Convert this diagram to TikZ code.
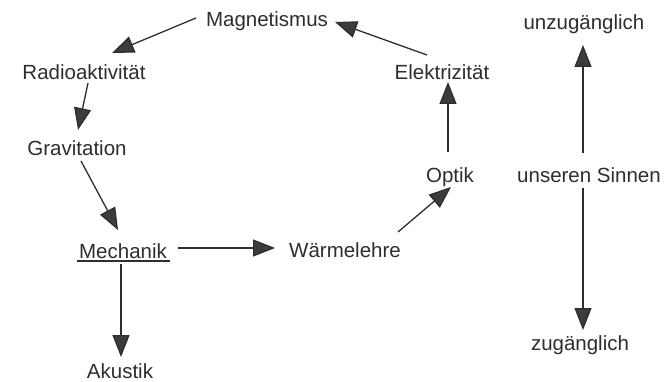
\documentclass[tikz,border=0pt]{standalone}
\usepackage{fontspec}
\setmainfont{Liberation Sans}
\usetikzlibrary{arrows.meta,calc}
\definecolor{ink}{HTML}{2E2E2E}
\definecolor{headfill}{HTML}{3C3C3C}
\tikzset{
  lbl/.style={anchor=base, inner sep=0pt, text=ink, font=\fontsize{20.5}{24}\selectfont},
  arr/.style={draw=ink, line width=1.3pt, -{Triangle[length=22pt,width=17pt,fill=headfill]}},
  uline/.style={draw=ink, line width=2pt}
}
\begin{document}
\begin{tikzpicture}[x=1pt,y=-1pt]
\useasboundingbox[fill=white] (0,0) rectangle (668,382);
\node[lbl] (mag)  at (267,27)  {Magnetismus};
\node[lbl] (rad)  at (84,80)   {Radioaktivität};
\node[lbl] (grav) at (77,155)  {Gravitation};
\node[lbl] (mech) at (123,258) {Mechanik};
\node[lbl] (akus) at (120,378) {Akustik};
\node[lbl] (warm) at (345,257) {Wärmelehre};
\node[lbl] (opt)  at (450,182) {Optik};
\node[lbl] (elek) at (442,80)  {Elektrizität};
\node[lbl] (unz)  at (584,30)  {unzugänglich};
\node[lbl] (sinn) at (589,182) {unseren Sinnen};
\node[lbl] (zug)  at (580,350) {zugänglich};
\draw[uline] ($(mech.base)+(-46,3)$) -- ($(mech.base)+(47,3)$);
\draw[arr] ($(mag.base)+(-71,-9)$) -- ($(rad.base)+(28,-27)$);
\draw[arr] ($(rad.base)+(4,3)$) -- ($(grav.base)+(1,-25)$);
\draw[arr] ($(grav.base)+(4,6)$) -- ($(mech.base)+(-5,-28)$);
\draw[arr] ($(mech.base)+(55,-10)$) -- ($(warm.base)+(-70,-9)$);
\draw[arr] ($(mech.base)+(-2,6)$) -- ($(akus.base)+(1,-21)$);
\draw[arr] ($(warm.base)+(53,-25)$) -- ($(opt.base)+(1,5)$);
\draw[arr] ($(opt.base)+(-2,-30)$) -- ($(elek.base)+(6,2)$);
\draw[arr] ($(elek.base)+(-15,-25)$) -- ($(mag.base)+(68,-5)$);
\draw[arr] ($(sinn.base)+(-6,-29)$) -- ($(unz.base)+(-1,15)$);
\draw[arr] ($(sinn.base)+(-6,6)$) -- ($(zug.base)+(3,-20)$);
\end{tikzpicture}
\end{document}
